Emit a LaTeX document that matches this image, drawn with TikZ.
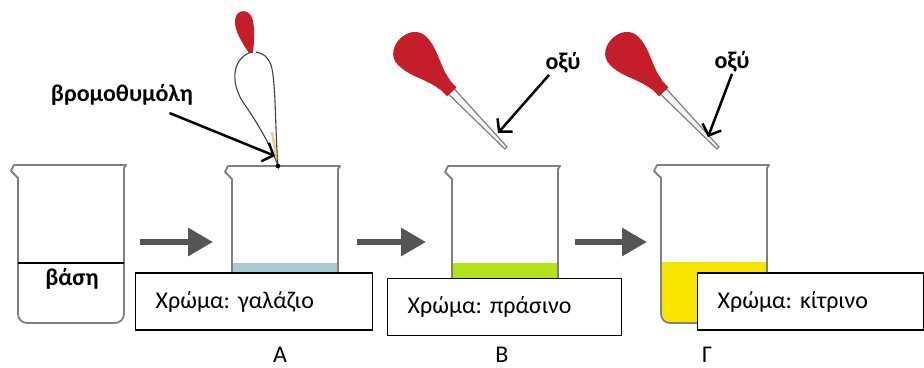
\documentclass[tikz,border=0pt]{standalone}
\usepackage{fontspec}
\setmainfont{Carlito}
\usetikzlibrary{arrows.meta}
\definecolor{glassgray}{HTML}{808080}
\definecolor{arrowgray}{HTML}{555555}
\definecolor{bulbred}{HTML}{C41E2A}
\definecolor{lightblue}{HTML}{A9CBD3}
\definecolor{limegreen}{HTML}{B2E21B}
\definecolor{lemon}{HTML}{F7E500}
\frenchspacing
\begin{document}
\begin{tikzpicture}[x=1pt, y=-1pt,
    glass/.style={draw=glassgray, line width=1.8pt, line cap=round, line join=round},
    colorbox/.style={draw, line width=1.3pt, fill=white, anchor=west, minimum height=57pt,
      inner xsep=20pt, text width=#1, align=left, font=\fontsize{24}{28}\selectfont},
    flow/.style={draw=arrowgray, line width=6pt, -{Triangle[length=25pt,width=27pt]}},
    pointer/.style={draw, line width=2.5pt, -{Straight Barb[length=9pt,width=20pt]}},
    tag/.style={font=\bfseries\fontsize{24}{28}\selectfont},
    stage/.style={font=\fontsize{24}{26}\selectfont, inner sep=1pt},
    pics/beaker/.style={code={
      \begin{scope}
        \clip[rounded corners=9pt] (0,60) -- (0,158) -- (106,158) -- (106,60) -- cycle;
        \fill[#1] (0,97) rectangle (106,160);
      \end{scope}
      \draw[glass] (0,13) -- (-7,6) -- (-4,0) -- (108,0) -- (106,3);
      \draw[glass, rounded corners=9pt] (0,13) -- (0,158) -- (106,158) -- (106,3);
    }},
    pics/dropper/.style={code={
      \draw[draw=glassgray, fill=gray!8, line width=1.2pt] (0,-1.5) -- (-80,-4) -- (-80,4) -- (0,1.5) -- cycle;
      \fill[bulbred] (-78,-6.5) rectangle (-91,6.5);
      \fill[bulbred] (-88,-7) .. controls (-105,-9) and (-118,-20) .. (-135,-20)
        .. controls (-158,-20) and (-158,20) .. (-135,20)
        .. controls (-118,20) and (-105,9) .. (-88,7) -- cycle;
    }}]
  \useasboundingbox (0,0) rectangle (924,367);

  % beakers
  \pic at (18,165) {beaker=white};
  \pic at (232,166) {beaker=lightblue};
  \pic at (452,166) {beaker=limegreen};
  \pic at (661,165) {beaker=lemon};
  \draw[line width=1.5pt] (18,263) -- (124,263);
  \node[tag] (base) at (72,279) {βάση};

  % bromothymol pipette
  \fill[bulbred] (249,53) .. controls (240,40) and (232,26) .. (236,16)
    .. controls (240,8) and (251,10) .. (253,21) .. controls (255,31) and (254,43) .. (253,53) -- cycle;
  \draw[line width=1.1pt, draw=black!75] (251,52) .. controls (230,60) and (231,86) .. (245,105)
    .. controls (258,124) and (271,146) .. (278,166)
    .. controls (275,130) and (276,80) .. (271,65) .. controls (268,57) and (263,53) .. (256,52);
  \draw[line width=2.5pt, draw=brown!70!yellow, opacity=.55] (272,132) -- (277,160);
  \fill (278,166) circle (2.3pt);

  \pic[rotate=-46] at (506,148) {dropper};
  \pic[rotate=-46] at (718,148) {dropper};

  % labels
  \node[tag] (bromo) at (122,95) {βρομοθυμόλη};
  \node[tag] (oxyB) at (563,63) {οξύ};
  \node[tag] (oxyG) at (732,62) {οξύ};
  \coordinate (tipA) at (275,156);
  \coordinate (tipB) at (498,133);
  \coordinate (tipG) at (708,137);
  \draw[pointer] ([xshift=-27pt,yshift=-4pt]bromo.south east) -- (tipA);
  \draw[pointer] ([xshift=-14pt,yshift=2pt]oxyB.south) -- (tipB);
  \draw[pointer] ([yshift=2pt]oxyG.south) -- (tipG);

  % process arrows
  \coordinate (s1) at (140,242); \coordinate (e1) at (213,242);
  \coordinate (s2) at (357,242); \coordinate (e2) at (426,242);
  \coordinate (s3) at (575,242); \coordinate (e3) at (647,242);
  \draw[flow] (s1) -- (e1);
  \draw[flow] (s2) -- (e2);
  \draw[flow] (s3) -- (e3);

  % colour boxes
  \node[colorbox=197pt] (boxA) at (135,301.5) {Χρώμα: γαλάζιο};
  \node[colorbox=194pt] (boxB) at (387,307) {Χρώμα: πράσινο};
  \node[colorbox=186pt] (boxG) at (697,301.5) {Χρώμα: κίτρινο};

  \node[stage] (stageA) at (280,355) {Α};
  \node[stage] (stageB) at (502,355) {Β};
  \node[stage] (stageG) at (707,355) {Γ};
\end{tikzpicture}
\end{document}
